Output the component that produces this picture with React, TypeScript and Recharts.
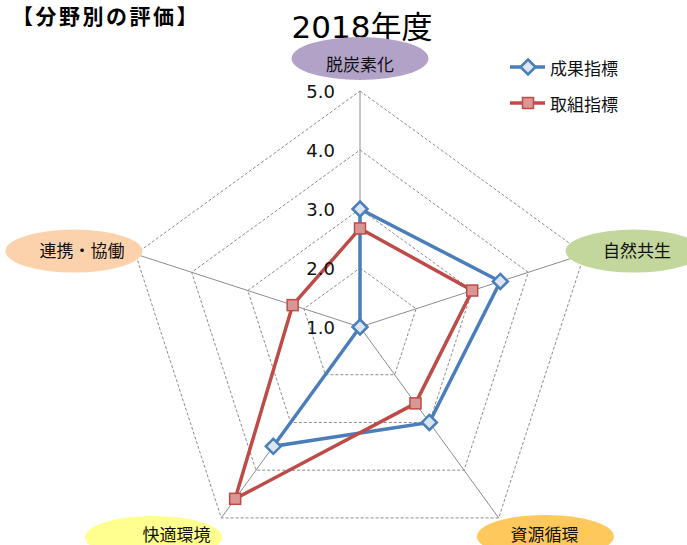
import React from 'react';
import { RadarChart, Radar, PolarGrid, PolarAngleAxis, PolarRadiusAxis } from 'recharts';

const CATEGORIES = ['脱炭素化', '自然共生', '資源循環', '快適環境', '連携・協働'];
const SERIES_NAMES = ['成果指標', '取組指標'];
const SEIKA = [3.0, 3.5, 3.0, 3.5, 1.0];
const TORIKUMI = [2.67, 3.0, 2.6, 4.6, 2.2];
const R_TICKS = [1, 2, 3, 4, 5];
const TITLE = '2018年度';
const HEADER = '【分野別の評価】';

const data = CATEGORIES.map((c, i) => ({
  name: c,
  [SERIES_NAMES[0]]: SEIKA[i],
  [SERIES_NAMES[1]]: TORIKUMI[i],
}));

const CJK = '"Noto Sans CJK JP", "Noto Sans", sans-serif';
const NUM = '"DejaVu Sans", "Noto Sans CJK JP", sans-serif';

const BLUE = '#4a7ebb';
const RED = '#be4b48';

// ellipse / text offsets from the axis vertex, per category
const LABEL_STYLE: Record<string, { fill: string; ex: number; ey: number; tx: number; ty: number }> = {
  '脱炭素化': { fill: '#b3a2c7', ex: 0, ey: -24.5, tx: 0, ty: -19.5 },
  '自然共生': { fill: '#c3d69b', ex: 42, ey: -0.5, tx: 45, ty: -2 },
  '資源循環': { fill: '#ffc85c', ex: 42, ey: 12, tx: 41, ty: 9 },
  '快適環境': { fill: '#ffff8f', ex: -63, ey: 13, tx: -40, ty: 9 },
  '連携・協働': { fill: '#fcd2ac', ex: -54, ey: -0.5, tx: -46, ty: -2 },
};

function AngleTick({ x, y, payload }: any) {
  const s = LABEL_STYLE[payload.value];
  return (
    <g>
      <ellipse cx={x + s.ex} cy={y + s.ey} rx={68.5} ry={21.5} fill={s.fill} />
      <text x={x + s.tx} y={y + s.ty} textAnchor="middle" dominantBaseline="central"
        fontFamily={CJK} fontSize={17} fill="#111">{payload.value}</text>
    </g>
  );
}

function RadiusTick({ x, y, payload }: any) {
  return (
    <text x={x - 25} y={y} textAnchor="end" dominantBaseline="central"
      fontFamily={NUM} fontSize={18} fill="#111">{payload.value.toFixed(1)}</text>
  );
}

function Diamond({ cx, cy }: any) {
  const d = 7.5;
  return (
    <polygon points={`${cx},${cy - d} ${cx + d},${cy} ${cx},${cy + d} ${cx - d},${cy}`}
      fill="#dce6f2" stroke={BLUE} strokeWidth={2.5} />
  );
}

function Square({ cx, cy }: any) {
  const h = 5.5;
  return <rect x={cx - h} y={cy - h} width={h * 2} height={h * 2} fill="#d99694" stroke={RED} strokeWidth={1.5} />;
}

function LegendRow({ name, color, marker }: { name: string; color: string; marker: 'diamond' | 'square' }) {
  return (
    <div style={{ display: 'flex', alignItems: 'center', height: 36 }}>
      <svg width={40} height={20}>
        <line x1={2} y1={10} x2={37} y2={10} stroke={color} strokeWidth={3.5} />
        {marker === 'diamond' ? <Diamond cx={20} cy={10} /> : <Square cx={20} cy={10} />}
      </svg>
      <span style={{ fontFamily: CJK, fontSize: 17, color: '#111', marginLeft: 2 }}>{name}</span>
    </div>
  );
}

export default function App() {
  return (
    <div style={{ position: 'absolute', left: 0, top: 0, width: 687, height: 545, background: '#fff', overflow: 'hidden' }}>
      <div style={{ position: 'absolute', left: 12, top: 0, fontFamily: CJK, fontSize: 21, fontWeight: 700, letterSpacing: 2.5, color: '#000' }}>
        {HEADER}
      </div>
      <div style={{ position: 'absolute', left: 162, width: 400, top: 2, textAlign: 'center', fontFamily: NUM, fontSize: 31, color: '#000' }}>
        {TITLE}
      </div>
      <RadarChart width={687} height={545} data={data} cx={360} cy={327} outerRadius={236}
        margin={{ top: 0, right: 0, bottom: 0, left: 0 }}>
        <PolarGrid gridType="polygon" radialLines={false} stroke="#8c8c8c" strokeDasharray="3 2" />
        <PolarGrid gridType="polygon" polarRadius={[]} stroke="#8c8c8c" />
        <PolarAngleAxis dataKey="name" tick={<AngleTick />} tickLine={false} tickSize={0} axisLine={false} />
        <PolarRadiusAxis angle={90} domain={[1, 5]} ticks={R_TICKS as any} tickCount={5} axisLine={false}
          tick={<RadiusTick />} />
        <Radar name={SERIES_NAMES[0]} dataKey={SERIES_NAMES[0]} stroke={BLUE} strokeWidth={3.5} fill="none" fillOpacity={0}
          dot={(p: any) => <Diamond key={p.index} {...p} />} isAnimationActive={false} />
        <Radar name={SERIES_NAMES[1]} dataKey={SERIES_NAMES[1]} stroke={RED} strokeWidth={3.5} fill="none" fillOpacity={0}
          dot={(p: any) => <Square key={p.index} {...p} />} isAnimationActive={false} />
      </RadarChart>
      <div style={{ position: 'absolute', left: 508, top: 49 }}>
        <LegendRow name={SERIES_NAMES[0]} color={BLUE} marker="diamond" />
        <LegendRow name={SERIES_NAMES[1]} color={RED} marker="square" />
      </div>
    </div>
  );
}
